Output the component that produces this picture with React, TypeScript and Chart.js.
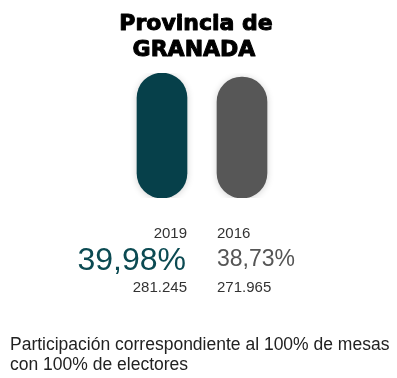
import React, { useEffect, useRef } from "react";
import { Chart, registerables } from "chart.js";

Chart.register(...registerables);

const titleLines = ["Provincia de", "GRANADA"];
const years = ["2019", "2016"];
const participation = [39.98, 38.73];
const voters = [281245, 271965];
const footerLines = [
  "Participación correspondiente al 100% de mesas",
  "con 100% de electores",
];
const barColors = ["#06404a", "#575757"];
const valueColors = ["#0b4a52", "#555555"];

const fmtPct = (v: number) => v.toFixed(2).replace(".", ",") + "%";
const fmtInt = (v: number) =>
  String(Math.round(v)).replace(/\B(?=(\d{3})+(?!\d))/g, ".");

const SANS = "'Liberation Sans', Arial, Helvetica, sans-serif";

const textPlugin = {
  id: "texts",
  beforeDatasetsDraw(chart: any) {
    const ctx = chart.ctx;
    ctx.save();
    ctx.shadowColor = "rgba(0,0,0,0.18)";
    ctx.shadowBlur = 7;
    ctx.shadowOffsetY = 1;
  },
  afterDatasetsDraw(chart: any) {
    chart.ctx.restore();
  },
  afterDraw(chart: any) {
    const ctx = chart.ctx;
    ctx.save();
    ctx.textBaseline = "alphabetic";
    // title
    ctx.fillStyle = "#000";
    ctx.strokeStyle = "#000";
    ctx.lineWidth = 1;
    ctx.lineJoin = "round";
    ctx.textAlign = "center";
    ctx.font = "bold 22px 'DejaVu Sans', sans-serif";
    ctx.fillText(titleLines[0], 196, 30);
    ctx.strokeText(titleLines[0], 196, 30);
    ctx.fillText(titleLines[1], 194, 56);
    ctx.strokeText(titleLines[1], 194, 56);

    const meta = chart.getDatasetMeta(0);
    meta.data.forEach((bar: any, i: number) => {
      const left = i === 0;
      const xEdge = left ? bar.x + bar.width / 2 : bar.x - bar.width / 2;
      ctx.textAlign = left ? "right" : "left";
      ctx.fillStyle = "#333";
      ctx.font = `15px ${SANS}`;
      ctx.fillText(years[i], xEdge, 238);
      ctx.fillStyle = valueColors[i];
      ctx.font = left ? `32px ${SANS}` : `23px ${SANS}`;
      ctx.fillText(fmtPct(participation[i]), left ? xEdge - 1 : xEdge, left ? 270 : 266);
      ctx.fillStyle = "#333";
      ctx.font = `15px ${SANS}`;
      ctx.fillText(fmtInt(voters[i]), xEdge, 292);
    });

    ctx.textAlign = "left";
    ctx.fillStyle = "#222";
    ctx.font = `17.5px ${SANS}`;
    ctx.fillText(footerLines[0], 10, 350);
    ctx.fillText(footerLines[1], 10, 370);
    ctx.restore();
  },
};

export default function App() {
  const ref = useRef<HTMLCanvasElement>(null);
  useEffect(() => {
    if (!ref.current) return;
    const chart = new Chart(ref.current, {
      type: "bar",
      data: {
        labels: years,
        datasets: [
          {
            data: participation,
            backgroundColor: barColors,
            borderRadius: 25,
            borderSkipped: false,
            barThickness: 50,
          },
        ],
      },
      options: {
        animation: false,
        responsive: false,
        devicePixelRatio: 1,
        layout: { padding: { left: 122, right: 115, top: 73, bottom: 180 } },
        scales: {
          x: { display: false },
          y: { display: false, min: 0, max: 40 },
        },
        plugins: {
          legend: { display: false },
          tooltip: { enabled: false },
        },
      },
      plugins: [textPlugin],
    });
    return () => chart.destroy();
  }, []);
  return (
    <div style={{ position: "absolute", left: 0, top: 0, width: 397, height: 378, background: "#fff" }}>
      <canvas ref={ref} width={397} height={378} />
    </div>
  );
}
